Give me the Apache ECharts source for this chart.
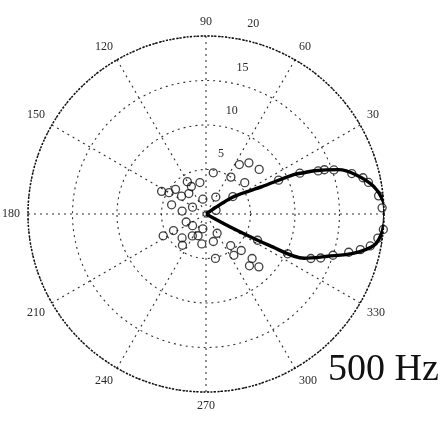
<!DOCTYPE html>
<html>
<head>
<meta charset="utf-8">
<script src="https://cdn.jsdelivr.net/npm/echarts@6/dist/echarts.min.js"></script>
<style>
html,body{margin:0;padding:0;background:#fff;}
#chart{width:443px;height:427px;}
</style>
</head>
<body>
<div id="chart"></div>
<script>
// Angle ticks (degrees) and radius ticks
const angleTicks = [0, 30, 60, 90, 120, 150, 180, 210, 240, 270, 300, 330];
const radiusTicks = [5, 10, 15, 20];
const titleText = '500 Hz';

// Model beam pattern: [radius, angle in degrees]
const modelCurve = [
  [0, 0], [3.6, 332], [8.0, 333.6], [12.1, 335.7], [14.5, 340.9], [17.1, 345],
  [19.2, 349.4], [19.9, 354.3], [20.1, 0], [20.0, 3.8], [19.1, 9.3], [17.4, 14.7],
  [15.7, 18.5], [13.1, 21.8], [11.9, 22.9], [10.8, 24.2], [7.0, 26], [3.7, 32], [0, 0]
];

// Measured points: [radius, angle in degrees]
const measured = [
  [5.6, 153], [4.4, 141], [3.4, 144], [3.5, 118], [3.6, 101], [4.7, 80],
  [1.7, 102], [1.7, 153], [2.7, 173], [2.4, 202], [5.4, 207], [4.1, 207],
  [4.4, 233], [2.9, 238], [1.7, 258], [3.4, 262], [5.1, 282], [3.2, 285],
  [5.0, 56], [6.7, 56], [7.5, 50], [7.8, 40], [5.6, 39], [3.6, 33],
  [5.6, 304], [5.7, 314], [7.2, 316], [7.6, 310], [8.4, 315], [4.5, 308],
  [2.0, 221], [4.0, 165], [3.0, 130], [2.2, 60], [2.5, 300], [1.2, 20],
  [4.8, 150], [2.6, 250], [3.8, 225], [4.2, 120],
  [19.8, 2], [20.3, 357], [19.5, 6], [18.6, 11], [17.0, 15.5], [15.2, 19],
  [13.5, 21], [11.5, 23.5], [9.0, 25], [19.5, 352], [18.8, 349], [16.6, 345],
  [15.0, 342], [12.8, 337], [10.2, 334], [6.5, 333], [20.1, 4.5], [18.1, 13],
  [14.2, 20.5], [17.8, 347], [13.8, 339], [20.0, 355]
];

const chart = echarts.init(document.getElementById('chart'), null, {renderer: 'canvas'});
const center = [206, 214];
const R = 178;
const labelFont = {fontFamily: 'Liberation Serif', fontSize: 12, color: '#2a2a2a'};

chart.setOption({
  animation: false,
  backgroundColor: '#fff',
  title: {
    text: titleText,
    left: 323, top: 346,
    textStyle: {fontFamily: 'Liberation Serif', fontSize: 38, fontWeight: 'normal', color: '#111'}
  },
  polar: [
    {center: center, radius: R},
    {center: center, radius: [17.6, 17.6 + R]}
  ],
  angleAxis: [
    {
      polarIndex: 0, type: 'value', min: 0, max: 360, interval: 30,
      startAngle: 0, clockwise: false,
      axisLine: {show: true, lineStyle: {color: '#111', width: 1.5, type: [2, 1.5]}},
      axisTick: {show: false},
      splitLine: {show: true, lineStyle: {color: '#333', width: 1.1, type: [2, 4]}},
      axisLabel: Object.assign({
        margin: 8,
        formatter: v => (v === 0 || v === 360 || angleTicks.indexOf(v) < 0) ? '' : String(v)
      }, labelFont)
    },
    {
      polarIndex: 1, type: 'value', min: 0, max: 360, startAngle: 76, clockwise: false,
      axisLine: {show: false}, axisTick: {show: false}, splitLine: {show: false}, axisLabel: {show: false}
    }
  ],
  radiusAxis: [
    {
      polarIndex: 0, type: 'value', min: 0, max: 20, interval: 5,
      axisLine: {show: false}, axisTick: {show: false}, axisLabel: {show: false},
      splitLine: {show: true, lineStyle: {color: '#333', width: 1.1, type: [2, 4]}}
    },
    {
      polarIndex: 1, type: 'value', min: 0, max: 20, interval: 5,
      axisLine: {show: false}, axisTick: {show: false}, splitLine: {show: false},
      axisLabel: Object.assign({
        margin: 0, align: 'center', verticalAlign: 'middle', rotate: 0,
        formatter: v => radiusTicks.indexOf(v) >= 0 ? String(v) : ''
      }, labelFont)
    }
  ],
  series: [
    {
      type: 'scatter', coordinateSystem: 'polar', polarIndex: 0,
      data: measured, symbol: 'circle', symbolSize: 8,
      itemStyle: {color: 'rgba(0,0,0,0)', borderColor: '#111', borderWidth: 1.3},
      z: 2
    },
    {
      type: 'line', coordinateSystem: 'polar', polarIndex: 0,
      data: modelCurve, showSymbol: false, smooth: 0.3,
      lineStyle: {color: '#000', width: 3.4},
      z: 3
    }
  ]
});
</script>
</body>
</html>
